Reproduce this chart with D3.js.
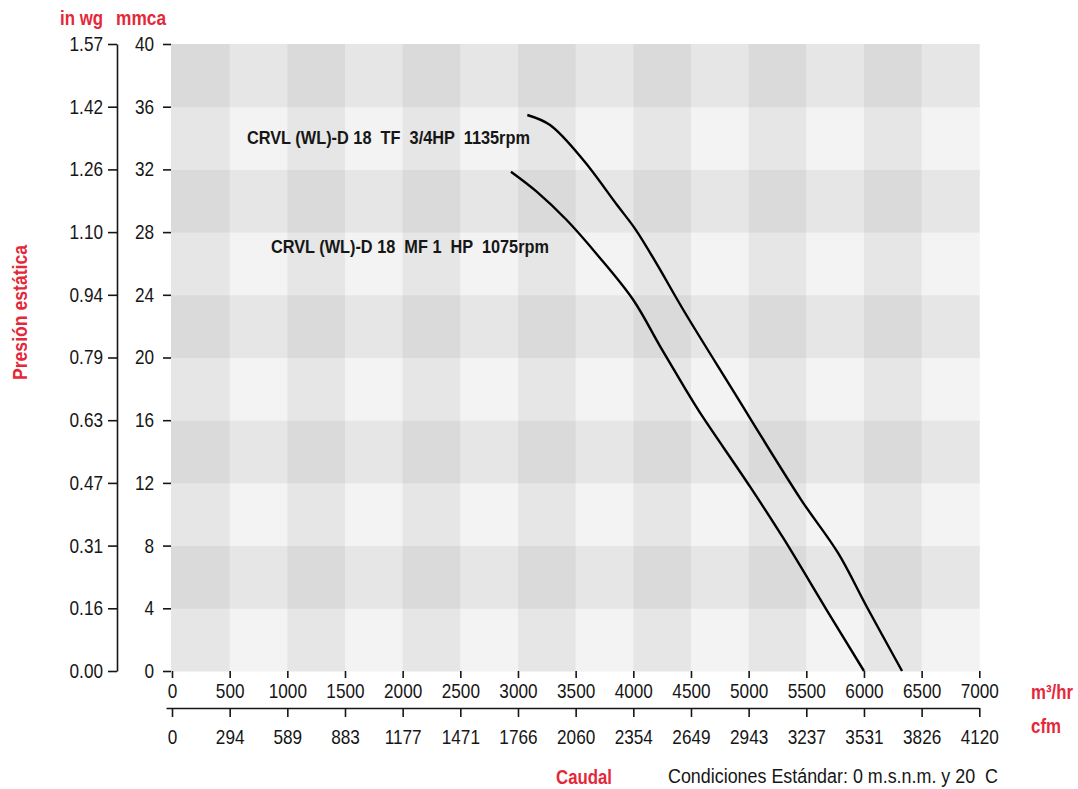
<!DOCTYPE html>
<html><head><meta charset="utf-8">
<script src="https://cdn.jsdelivr.net/npm/d3@7"></script>
<style>
body{margin:0;background:#fff}
svg{display:block}
text{font-family:"Liberation Sans",Arial,sans-serif}
</style>
</head><body>
<svg id="c" width="1078" height="789"></svg>
<script>
// ---- data ----
const flowTicks = [0,500,1000,1500,2000,2500,3000,3500,4000,4500,5000,5500,6000,6500,7000];
const cfmLabels = ["0","294","589","883","1177","1471","1766","2060","2354","2649","2943","3237","3531","3826","4120"];
const mmcaTicks = [0,4,8,12,16,20,24,28,32,36,40];
const inwgLabels = ["0.00","0.16","0.31","0.47","0.63","0.79","0.94","1.10","1.26","1.42","1.57"];

const tfFlow     = [3081, 3278, 3566, 3856, 4023, 4203, 4434, 4853, 5451, 5775, 6024, 6330];
const tfPressure = [35.47,34.83,32.60,29.76,28.13,25.97,23.03,18.03,10.97,7.53, 4.10, 0];
const mfFlow     = [2939, 3162, 3422, 3696, 4000, 4231, 4448, 4578, 5012, 5301, 5677, 6000];
const mfPressure = [31.85,30.58,28.77,26.48,23.67,20.73,18.03,16.48,11.76,8.47, 3.89, 0];
const seriesNames = ["CRVL (WL)-D 18  TF  3/4HP  1135rpm", "CRVL (WL)-D 18  MF 1  HP  1075rpm"];

// ---- layout ----
const RED = "#e4283a";
const INK = "#161616";
const svg = d3.select("#c");
const x = d3.scaleLinear().domain([0,7000]).range([172,979.3]);
const y = d3.scaleLinear().domain([0,40]).range([671,44]);

// background checkerboard
const cellColors = ["#f3f3f3","#e6e6e6","#dadada"];
const bg = svg.append("g");
for (let i = 0; i < flowTicks.length-1; i++) {
  for (let j = 0; j < mmcaTicks.length-1; j++) {
    const level = (i%2===0?1:0) + (j%2===1?1:0);
    bg.append("rect")
      .attr("x", x(flowTicks[i])-(i===0?1:0))
      .attr("width", x(flowTicks[i+1])-x(flowTicks[i])+(i===0?1:0)+0.5)
      .attr("y", y(mmcaTicks[j+1]))
      .attr("height", y(mmcaTicks[j])-y(mmcaTicks[j+1])+0.5)
      .attr("fill", cellColors[level]);
  }
}

const FS = 20, K = 0.86;
function styleAxis(g){
  g.selectAll("text").attr("font-size",FS).attr("fill",INK)
   .style("font-family",'"Liberation Sans",Arial,sans-serif')
   .each(function(){
      const t = d3.select(this);
      const xv = +(t.attr("x")||0);
      t.attr("x", xv/K).attr("transform",`scale(${K},1)`);
   });
  g.selectAll("line").attr("stroke",INK).attr("stroke-width",1.6);
  g.selectAll("path.domain").attr("stroke",INK).attr("stroke-width",1.6);
}

// mmca axis (no domain)
const gm = svg.append("g").attr("transform","translate(171,0)")
  .call(d3.axisLeft(y).tickValues(mmcaTicks).tickSize(8).tickPadding(9).tickFormat(d3.format("d")));
gm.select(".domain").remove();
styleAxis(gm);

// in wg axis
const gi = svg.append("g").attr("transform","translate(117,0)")
  .call(d3.axisLeft(y).tickValues(mmcaTicks).tickSize(9).tickSizeOuter(0).tickPadding(5)
        .tickFormat((d,i)=>inwgLabels[i]));
styleAxis(gi);

// m3/hr axis (no domain)
const gx = svg.append("g").attr("transform","translate(0,671)")
  .call(d3.axisBottom(x).tickValues(flowTicks).tickSize(7).tickPadding(6).tickFormat(d3.format("d")));
gx.select(".domain").remove();
styleAxis(gx);

// cfm axis
const gc = svg.append("g").attr("transform","translate(0,708)")
  .call(d3.axisBottom(x).tickValues(flowTicks).tickSize(9).tickSizeOuter(0).tickPadding(13)
        .tickFormat((d,i)=>cfmLabels[i]));
gc.select(".domain").attr("d","M166.5,0.5H979.3");
styleAxis(gc);

// curves
const line = d3.line().x(d=>x(d[0])).y(d=>y(d[1])).curve(d3.curveCatmullRom.alpha(0.5));
[[tfFlow,tfPressure],[mfFlow,mfPressure]].forEach(([f,p])=>{
  svg.append("path").datum(f.map((v,i)=>[v,p[i]]))
    .attr("d",line).attr("fill","none").attr("stroke","#000").attr("stroke-width",2.4)
    .attr("stroke-linejoin","round");
});

function fitText(sel, len){
  return sel.attr("textLength",len).attr("lengthAdjust","spacingAndGlyphs")
    .attr("xml:space","preserve").style("white-space","pre");
}

// series labels
const lab = svg.append("g").attr("font-weight","bold").attr("font-size",19).attr("fill",INK);
fitText(lab.append("text").attr("x",x(650)).attr("y",y(33.6)).text(seriesNames[0]), 283);
fitText(lab.append("text").attr("x",x(858)).attr("y",y(26.65)).text(seriesNames[1]), 278);

// red axis titles
const rt = svg.append("g").attr("font-weight","bold").attr("font-size",21).attr("fill",RED);
fitText(rt.append("text").attr("x",60).attr("y",25).text("in wg"), 43);
fitText(rt.append("text").attr("x",116).attr("y",25).text("mmca"), 50);
rt.append("text").attr("x",1031/0.84).attr("y",699).attr("font-size",20)
  .attr("transform","scale(0.84,1)").text("m³/hr");
fitText(rt.append("text").attr("x",1031).attr("y",733).text("cfm"), 30);
fitText(rt.append("text").attr("x",556).attr("y",784).text("Caudal"), 56);
fitText(rt.append("text").attr("transform","translate(27,380) rotate(-90)").attr("x",0).attr("y",0)
  .text("Presión estática"), 135);

fitText(svg.append("text").attr("x",668).attr("y",783).attr("font-size",FS).attr("fill",INK)
  .text("Condiciones Estándar: 0 m.s.n.m. y 20  C"), 330);
</script>
</body></html>
